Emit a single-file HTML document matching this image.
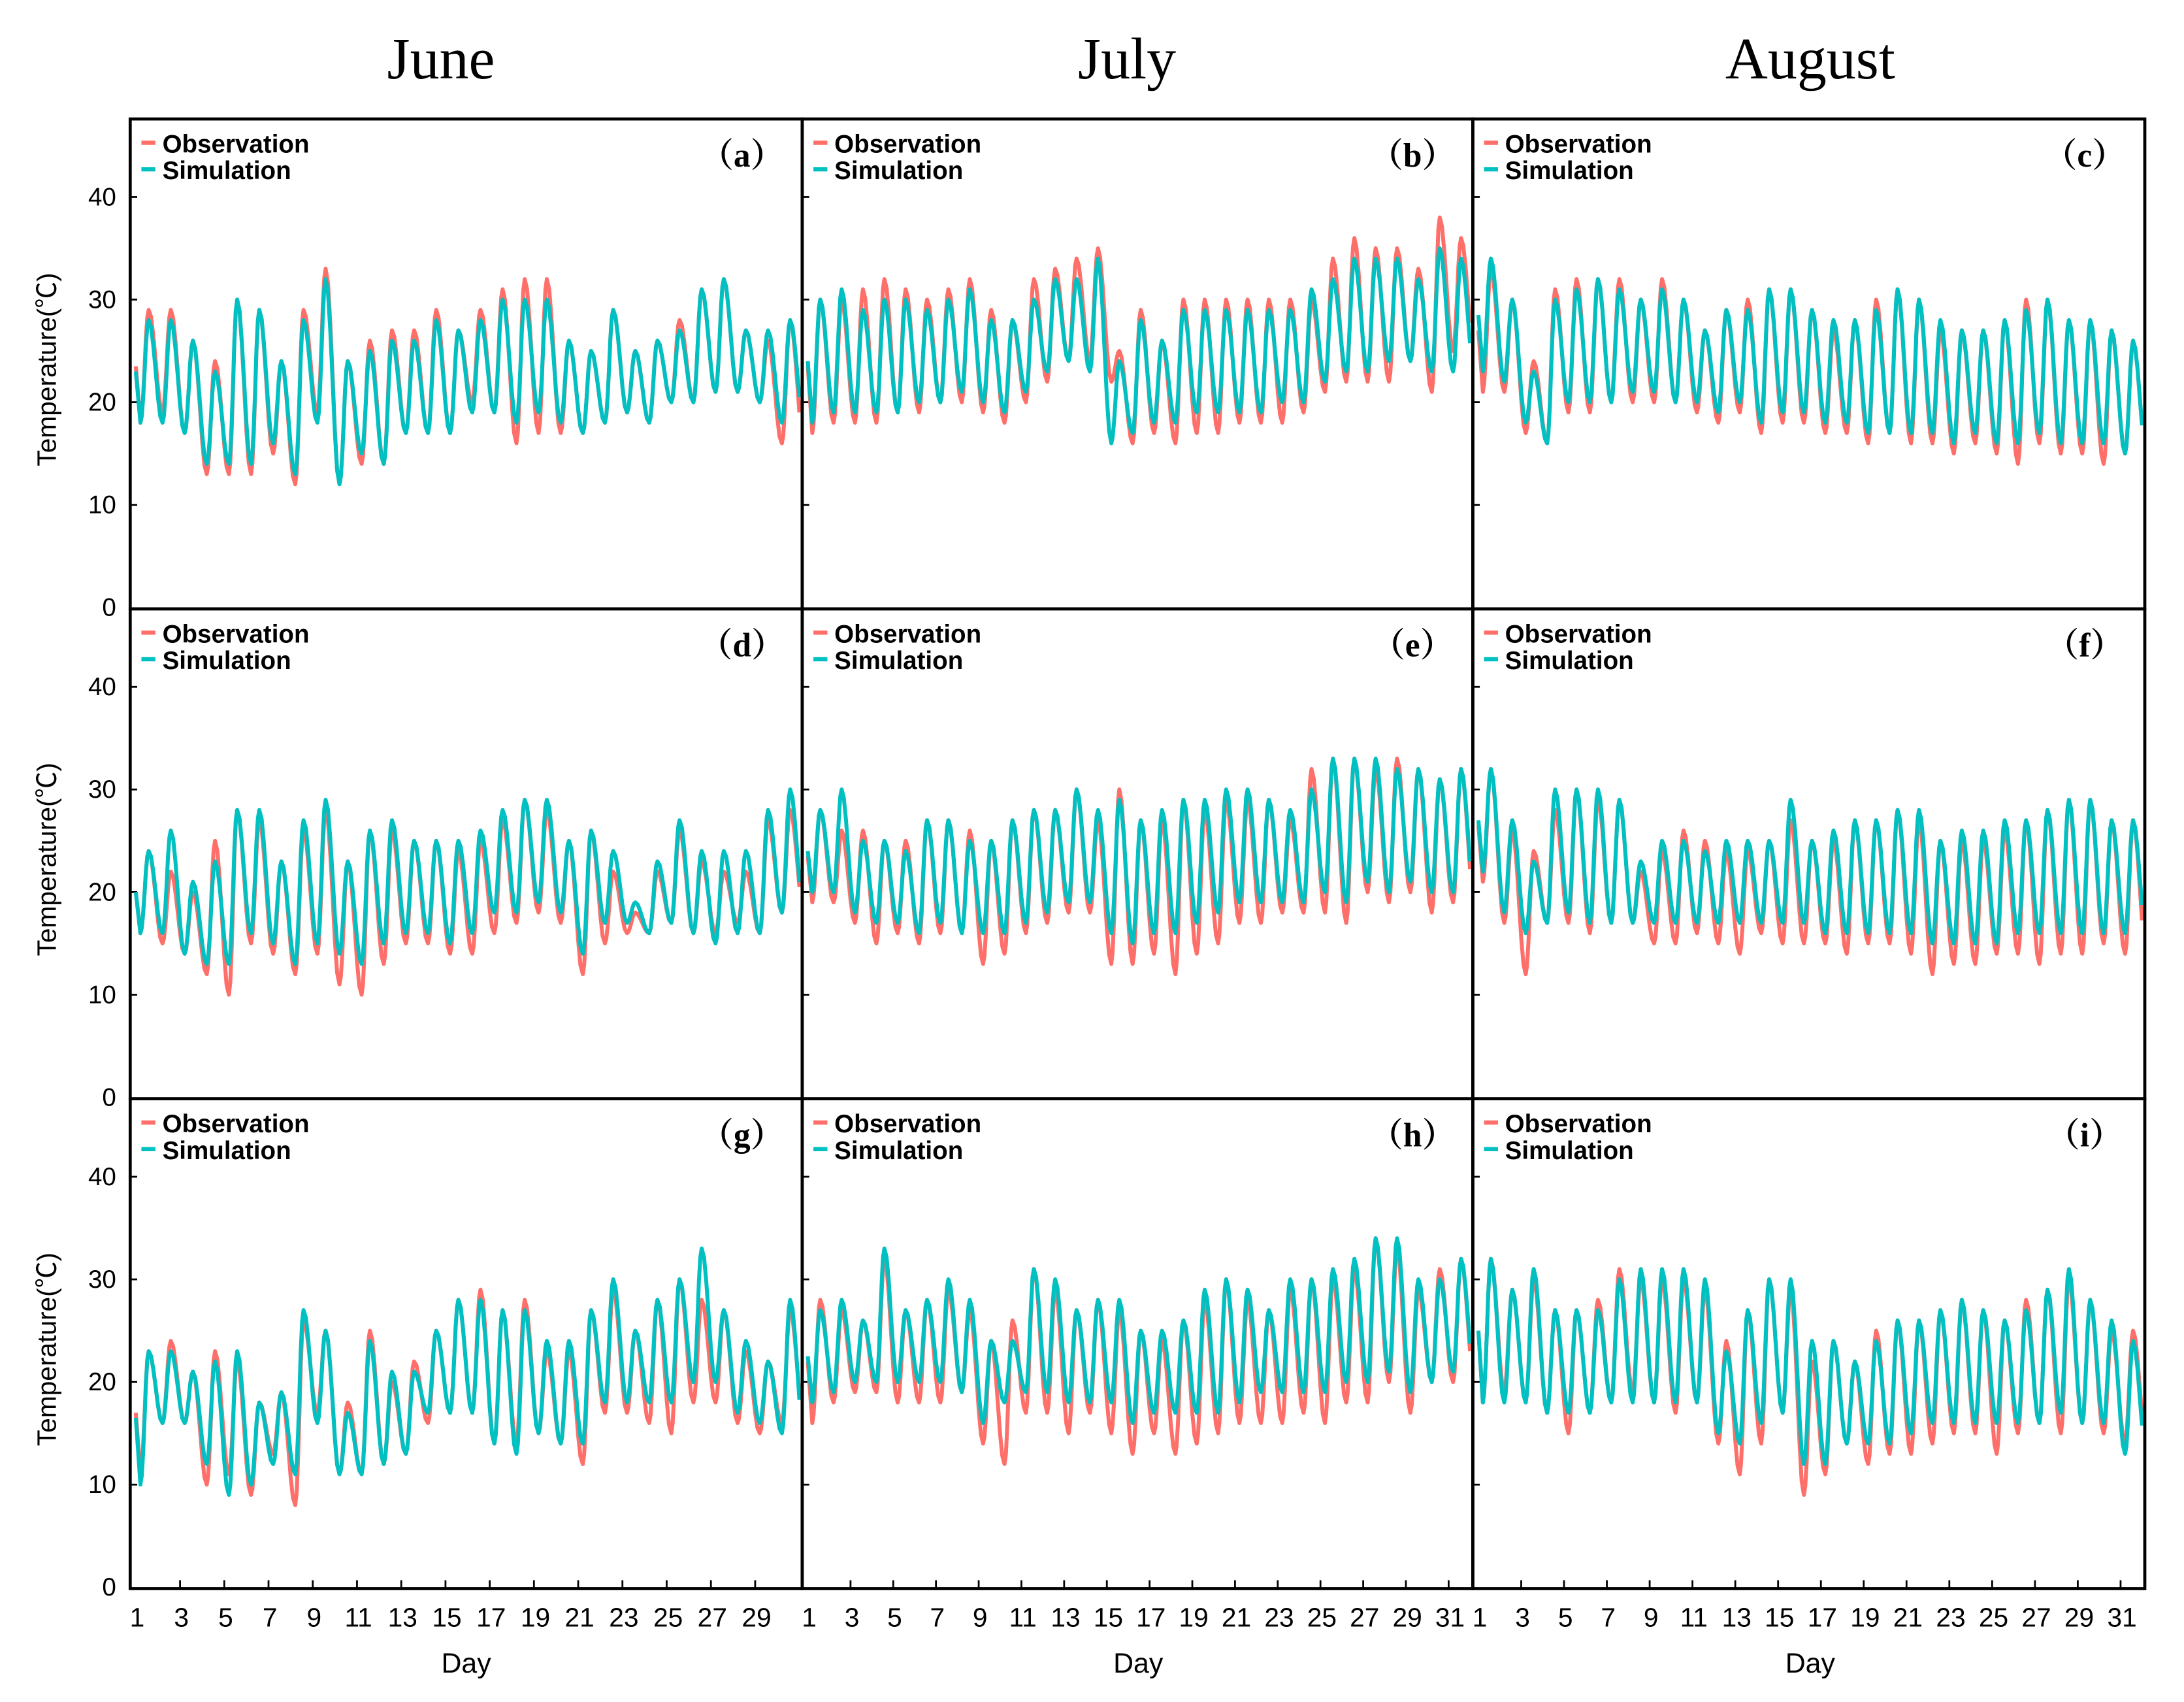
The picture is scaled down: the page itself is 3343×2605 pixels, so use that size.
<!DOCTYPE html>
<html><head><meta charset="utf-8"><style>
html,body{margin:0;padding:0;background:#fff;}
svg{display:block;}
</style></head><body>
<svg id="chart" width="3343" height="2605" viewBox="0 0 1560 1216" preserveAspectRatio="none" xmlns="http://www.w3.org/2000/svg"></svg>
<script>
// ---- data: daily max/min per panel (°C) ----
const aObsMax=[29,29,26,24,30,29,24,29,33,24,26,27,27,29,27,29,31,32,32,26,25,29,25,26,28,31,32,27,26,28];
const aObsMin=[18,19,17,13,13,13,15,12,19,12,14,14,17,17,17,20,19,16,17,17,17,18,19,18,20,20,21,21,20,16];
const aSimMax=[28,28,26,23,30,29,24,28,32,24,25,26,26,28,27,28,30,30,30,26,25,29,25,26,27,31,32,27,27,28];
const aSimMin=[18,18,17,14,14,14,16,13,18,12,15,14,17,17,17,19,19,18,19,18,17,18,19,18,20,20,21,21,20,18];
const bObsMax=[30,30,31,32,31,30,31,32,29,28,32,33,34,35,25,29,26,30,30,30,30,30,30,30,34,36,35,35,33,38,36];
const bObsMin=[17,18,18,18,19,19,20,20,19,18,20,22,24,24,22,16,17,16,17,17,18,18,18,19,21,22,22,22,24,21,25];
const bSimMax=[30,31,29,30,30,29,30,31,28,28,30,32,32,34,24,28,26,29,29,29,29,29,29,31,32,34,34,34,32,35,34];
const bSimMin=[18,19,19,19,19,20,20,21,20,19,21,23,24,23,16,17,18,18,19,19,19,19,20,20,22,23,23,24,24,23,23];
const cObsMax=[33,30,24,31,32,32,32,30,32,30,27,29,30,31,31,29,27,28,30,31,30,27,27,27,28,30,30,28,28,27,26];
const cObsMin=[21,21,17,16,19,19,20,20,20,20,19,18,19,17,18,18,17,17,16,17,16,16,15,16,15,14,16,15,15,14,15];
const cSimMax=[34,30,23,30,31,32,31,30,31,30,27,29,29,31,31,29,28,28,29,31,30,28,27,27,28,29,30,28,28,27,26];
const cSimMin=[23,22,18,16,20,20,20,21,21,20,20,19,20,18,19,19,18,18,17,17,17,17,16,17,16,16,17,16,16,16,15];
const dObsMax=[24,22,20,25,28,27,23,26,28,23,26,26,25,25,24,25,27,29,28,25,26,22,18,22,26,23,22,22,27,28];
const dObsMin=[16,15,14,12,10,15,14,12,14,11,10,13,15,15,14,14,16,17,18,17,12,15,16,16,17,16,16,17,16,18];
const dSimMax=[24,26,21,23,28,28,23,27,29,23,26,27,25,25,25,26,28,29,29,25,26,24,19,23,27,24,24,24,28,30];
const dSimMin=[16,16,14,13,13,16,15,13,15,14,13,15,16,16,15,16,18,18,19,18,14,17,17,16,17,16,15,16,16,18];
const eObsMax=[28,26,26,25,25,27,27,26,25,27,28,28,30,27,30,27,27,29,28,29,29,29,27,32,33,33,32,33,32,31,32];
const eObsMin=[19,19,17,15,16,15,16,16,13,14,16,17,18,18,13,13,14,12,14,15,17,17,18,18,18,17,20,19,20,18,19];
const eSimMax=[28,30,25,25,24,27,27,25,25,27,28,28,30,28,29,27,28,29,29,30,30,29,28,30,33,33,33,32,32,31,32];
const eSimMin=[20,20,18,17,17,16,17,16,16,16,17,18,19,19,16,15,16,16,17,18,19,19,19,19,20,19,21,20,21,20,20];
const fObsMax=[32,26,24,28,30,29,29,22,24,26,25,24,24,25,27,25,25,27,27,28,27,25,25,25,26,27,28,29,29,27,27];
const fObsMin=[21,17,12,17,17,16,17,17,15,15,16,15,14,16,15,15,15,14,15,15,14,12,13,13,14,14,13,14,14,15,14];
const fSimMax=[32,27,23,30,30,30,29,23,25,25,24,25,25,25,29,25,26,27,27,28,28,25,26,26,27,27,28,29,29,27,27];
const fSimMin=[22,18,16,17,18,17,17,17,17,17,17,17,17,17,17,17,16,16,16,16,16,15,15,15,15,16,16,16,16,16,16];
const gObsMax=[23,24,21,23,22,18,19,26,25,18,25,20,22,25,28,29,27,28,23,23,27,29,25,28,30,28,27,23,22,27];
const gObsMin=[11,16,16,10,11,9,13,8,17,11,11,12,13,16,17,17,14,14,15,14,12,17,17,16,15,18,18,16,15,16];
const gSimMax=[23,23,21,22,23,18,19,27,25,17,24,21,21,25,28,28,27,27,24,24,27,30,25,28,30,33,27,24,22,28];
const gSimMin=[10,16,16,12,9,10,12,11,16,11,11,12,13,17,17,17,14,13,15,14,14,18,18,18,18,20,20,17,16,15];
const hObsMax=[28,27,26,32,27,28,29,27,24,26,31,29,27,28,27,25,24,26,28,30,28,27,29,30,30,31,34,33,29,31,32];
const hObsMin=[16,18,19,19,18,18,18,19,14,12,17,17,15,17,15,13,15,13,14,15,16,16,16,17,16,18,18,20,17,20,20];
const hSimMax=[27,28,26,33,27,28,30,28,24,24,31,30,27,28,28,25,25,26,29,30,29,27,30,30,31,32,34,34,30,30,32];
const hSimMin=[18,19,20,20,20,20,20,19,16,18,19,19,18,18,18,16,17,17,17,17,18,19,19,19,19,20,20,21,19,20,21];
const iObsMax=[32,29,30,27,27,28,31,30,30,30,29,24,27,30,29,22,24,22,25,26,26,27,28,27,26,28,29,30,28,25,25];
const iObsMin=[18,19,18,17,15,17,18,19,18,17,18,14,11,14,17,9,11,14,12,13,13,14,15,15,13,15,16,15,16,15,14];
const iSimMax=[32,29,31,27,27,27,30,31,31,31,30,23,27,30,30,24,24,22,24,26,26,27,28,27,26,27,29,31,28,26,24];
const iSimMin=[18,18,18,17,17,17,18,18,18,18,18,15,14,16,17,12,12,14,14,14,15,16,16,16,16,16,16,17,16,16,13];
const yTicks=[0,10,20,30,40];
const monthTitles=["June","July","August"];
const panelLetters=["a","b","c","d","e","f","g","h","i"];
const panelData=[
 [aObsMax,aObsMin,aSimMax,aSimMin],[bObsMax,bObsMin,bSimMax,bSimMin],[cObsMax,cObsMin,cSimMax,cSimMin],
 [dObsMax,dObsMin,dSimMax,dSimMin],[eObsMax,eObsMin,eSimMax,eSimMin],[fObsMax,fObsMin,fSimMax,fSimMin],
 [gObsMax,gObsMin,gSimMax,gSimMin],[hObsMax,hObsMin,hSimMax,hSimMin],[iObsMax,iObsMin,iSimMax,iSimMin]];

const NS="http://www.w3.org/2000/svg";
const svg=document.getElementById('chart');
function mk(tag,attrs,parent){const e=document.createElementNS(NS,tag);for(const k in attrs)e.setAttribute(k,attrs[k]);(parent||svg).appendChild(e);return e;}
const colX=[93,573,1052,1532];
const rowY=[85,435,785,1135];
const YMAX=47.6;
const OBS="#ff6f69", SIM="#00c0c2";

monthTitles.forEach((m,i)=>{
  const t=mk('text',{x:[315,805,1293][i],y:56,'text-anchor':'middle','font-family':'"Liberation Serif",serif','font-size':42});
  t.textContent=m;
  
  
});

function curve(n,maxA,minA,xf,yf){
  let pts=[];
  const x1=xf(n);
  pts.push([xf(0),yf((minA[0]+maxA[0])/2)]);
  for(let d=0;d<n;d++){
    const mn=minA[d], mx=maxA[d], nmn=d+1<n?minA[d+1]:minA[d];
    for(let k=0;k<=6;k++){const t=k/6;const v=mn+(mx-mn)*(1-Math.cos(Math.PI*t))/2;pts.push([xf(d+(5+9*t)/24),yf(v)]);}
    for(let k=1;k<=6;k++){const t=k/6;const v=mx+(nmn-mx)*(1-Math.cos(Math.PI*t))/2;if(d+(14+15*t)/24<=n)pts.push([xf(d+(14+15*t)/24),yf(v)]);}
  }
  return pts.filter(p=>p[0]<=x1+0.01).map((p,i)=>(i?'L':'M')+p[0].toFixed(1)+' '+p[1].toFixed(1)).join('');
}

for(let r=0;r<3;r++){
  for(let c=0;c<3;c++){
    const idx=r*3+c;
    const L=colX[c], R=colX[c+1], T=rowY[r], B=rowY[r+1];
    const [oMax,oMin,sMax,sMin]=panelData[idx];
    const n=oMax.length;
    const per=(R-L-6)/n;
    const xf=d=>L+4+d*per;
    const yf=v=>B-1-v*(B-1-T)/YMAX;
    const g=mk('g',{});
    
    
    yTicks.forEach(v=>{
      const y=yf(v);
      if(v>0) mk('line',{x1:L,x2:L+5,y1:y,y2:y,stroke:'#000','stroke-width':1.3},g);
      if(c===0){
        const t=mk('text',{x:L-10,y:y+6,'text-anchor':'end','font-family':'"Liberation Sans",sans-serif','font-size':18},g);
        t.textContent=v;
        
        
      }
    });
    if(r===2){
      for(let d=1;d<=n;d+=2){
        const x=xf(d-1);
        if(d>1) mk('line',{x1:x,x2:x,y1:B,y2:B-6,stroke:'#000','stroke-width':1.3},g);
        const t=mk('text',{x:x+1,y:B+27,'text-anchor':'middle','font-family':'"Liberation Sans",sans-serif','font-size':19},g);
        t.textContent=d;
        
        
      }
    }
    const po=mk('path',{d:curve(n,oMax,oMin,xf,yf),fill:'none',stroke:OBS,'stroke-width':2.8,'stroke-linejoin':'round'},g);
    
    
    const ps=mk('path',{d:curve(n,sMax,sMin,xf,yf),fill:'none',stroke:SIM,'stroke-width':2.8,'stroke-linejoin':'round'},g);
    
    
    const lg=mk('g',{},g);
    
    
    mk('line',{x1:L+8,x2:L+18,y1:T+17,y2:T+17,stroke:OBS,'stroke-width':3},lg);
    mk('line',{x1:L+8,x2:L+18,y1:T+36,y2:T+36,stroke:SIM,'stroke-width':3},lg);
    const t1=mk('text',{x:L+23,y:T+24,'font-family':'"Liberation Sans",sans-serif','font-size':18,'font-weight':'bold'},lg);
    t1.textContent='Observation';
    
    
    const t2=mk('text',{x:L+23,y:T+43,'font-family':'"Liberation Sans",sans-serif','font-size':18,'font-weight':'bold'},lg);
    t2.textContent='Simulation';
    
    
    const pl=mk('text',{x:R-43,y:T+34,'text-anchor':'middle','font-family':'"Liberation Serif","Noto Serif CJK SC",serif','font-size':24,'font-weight':'bold'},g);
    pl.textContent='（'+panelLetters[idx]+'）';
    
    
    mk('rect',{x:L,y:T,width:R-L,height:B-T,fill:'none',stroke:'#000','stroke-width':2.2},g);
  }
  const yl=mk('text',{x:0,y:0,transform:'translate(40,'+((rowY[r]+rowY[r+1])/2+4)+') rotate(-90)','text-anchor':'middle','font-family':'"Liberation Sans","Noto Sans CJK SC",sans-serif','font-size':19});
  yl.textContent='Temperature(℃)';
  
  
}
[333,813,1293].forEach(x=>{
  const t=mk('text',{x:x,y:1195,'text-anchor':'middle','font-family':'"Liberation Sans",sans-serif','font-size':20});
  t.textContent='Day';
  
  
});
</script>
</body></html>
